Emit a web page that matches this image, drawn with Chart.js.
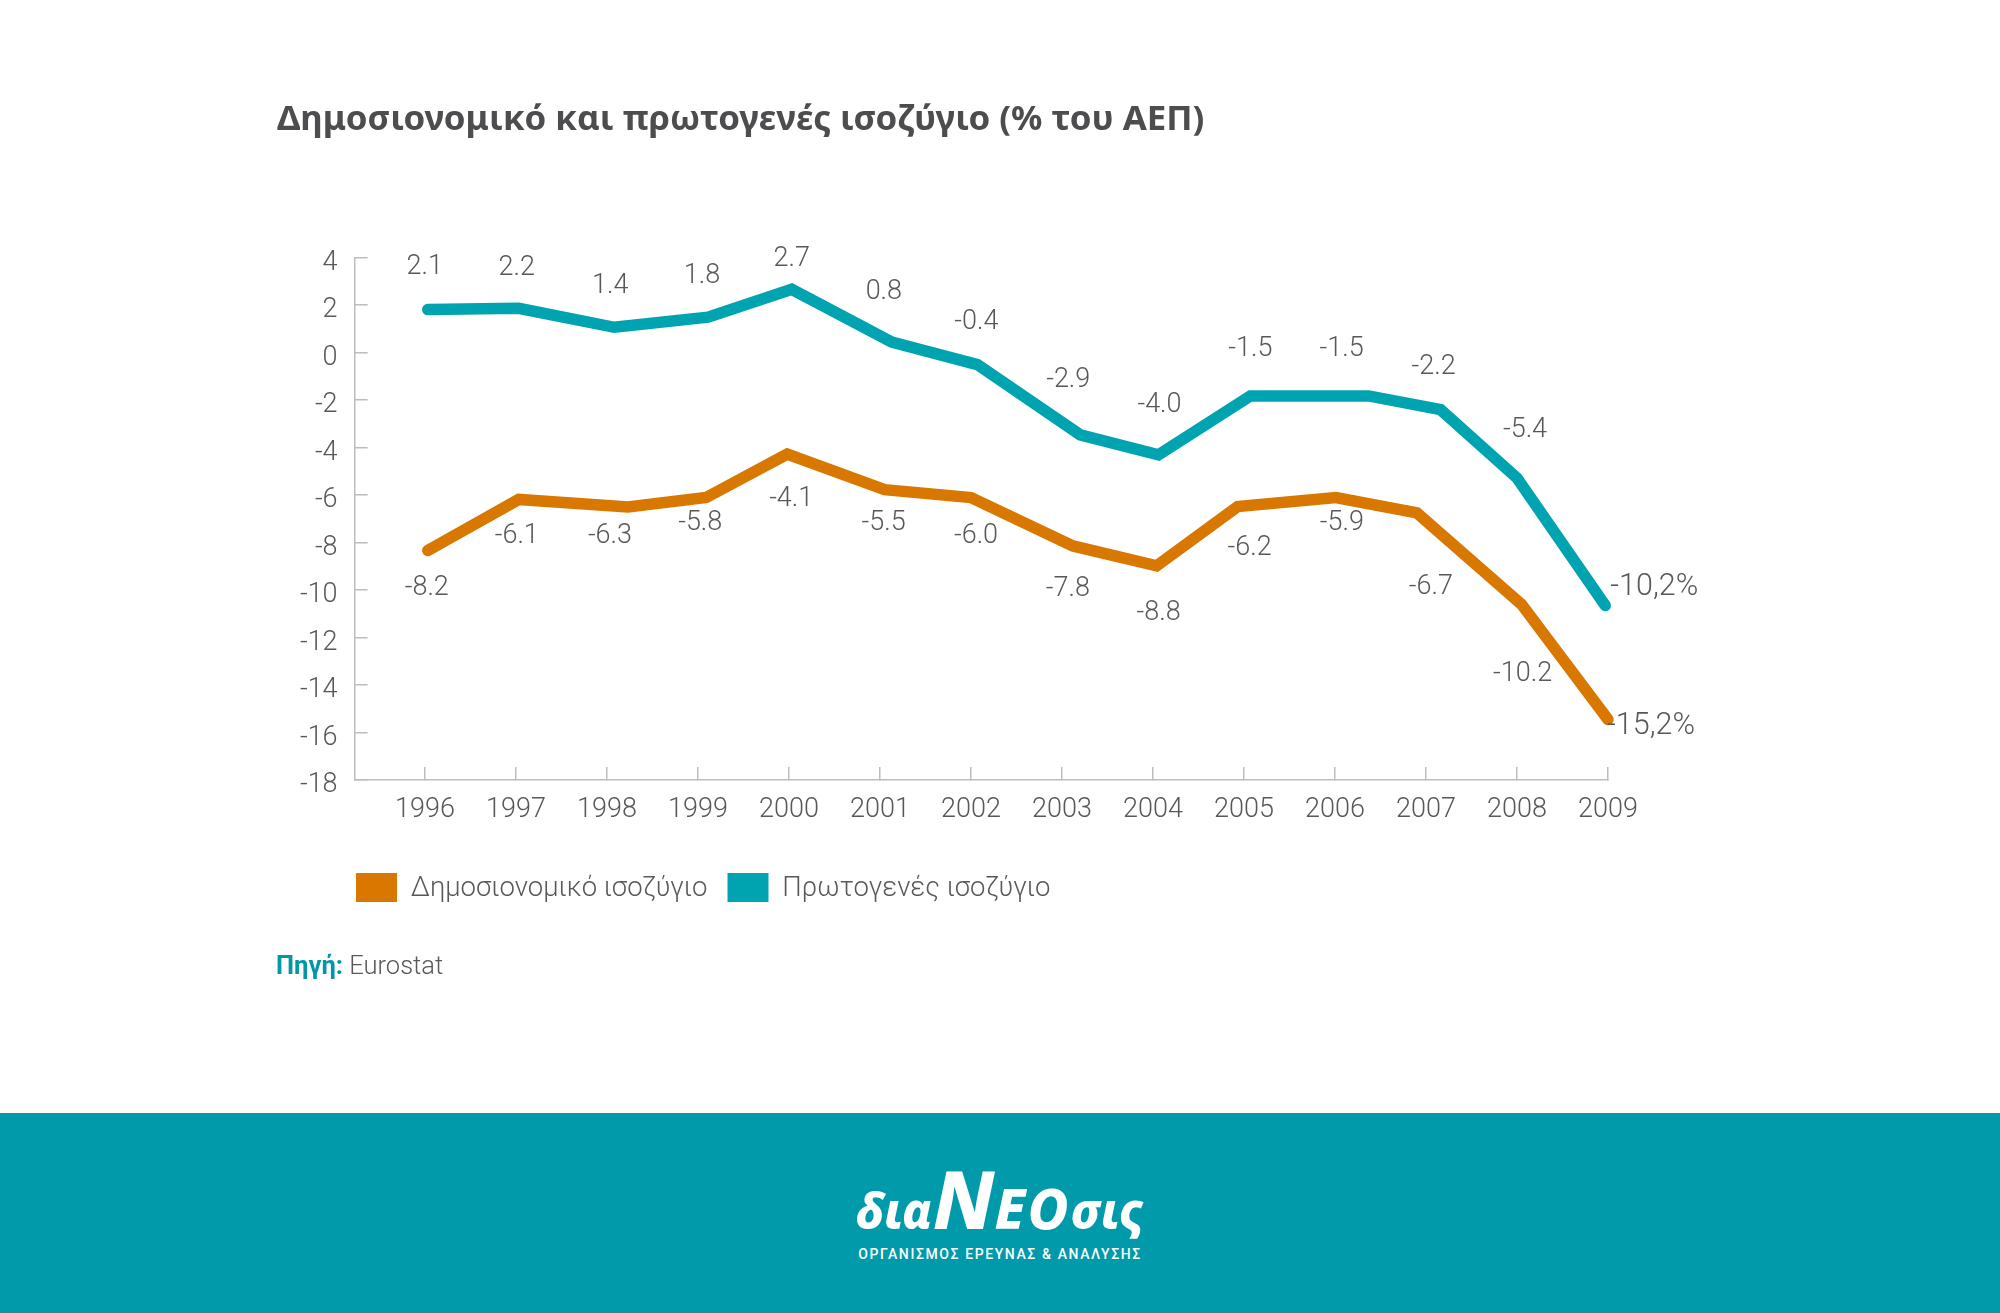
<!DOCTYPE html>
<html lang="el">
<head>
<meta charset="utf-8">
<title>Δημοσιονομικό και πρωτογενές ισοζύγιο</title>
<script src="https://cdn.jsdelivr.net/npm/chart.js@4"></script>
<style>
html, body { margin: 0; padding: 0; background: #fff; }
body { position: relative; width: 2000px; height: 1313px; overflow: hidden; font-family: Roboto, sans-serif; }
#chart { position: absolute; left: 0; top: 0; }
#source { position: absolute; left: 276px; top: 950px; font-size: 25.5px; font-weight: 300; color: #58585a; }
#source b { color: #0097a7; font-weight: 700; }
#footer { position: absolute; left: 0; top: 1113px; width: 2000px; height: 200px; background: #009aaa; color: #fff; text-align: center; }
#logo { position: absolute; left: 0; width: 2000px; top: 43px; font-family: "Noto Sans", sans-serif; font-weight: 800; font-style: italic; line-height: 84px; white-space: nowrap; }
#logo .low { font-size: 49px; }
#logo .cap { font-size: 56px; letter-spacing: 2px; }
#logo .n { font-size: 80px; }
#tagline { position: absolute; left: 0; width: 2000px; top: 133px; font-size: 14px; font-weight: 500; letter-spacing: 1.6px; }
</style>
</head>
<body>
<canvas id="chart" width="2000" height="1313"></canvas>
<div id="source"><b>Πηγή:</b> Eurostat</div>
<div id="footer">
  <div id="logo"><span class="low">δια</span><span class="n">Ν</span><span class="cap">ΕΟ</span><span class="low">σις</span></div>
  <div id="tagline">ΟΡΓΑΝΙΣΜΟΣ ΕΡΕΥΝΑΣ &amp; ΑΝΑΛΥΣΗΣ</div>
</div>
<script>
const TITULO = 'Δημοσιονομικό και πρωτογενές ισοζύγιο (% του ΑΕΠ)';
const ANIOS = [1996, 1997, 1998, 1999, 2000, 2001, 2002, 2003, 2004, 2005, 2006, 2007, 2008, 2009];

// the artwork's vertices don't sit exactly on the year ticks, so x is read off too
const DIMOSIO_X = [1996.03, 1997.03, 1998.23, 1999.09, 1999.98, 2001.05, 2002.0, 2003.12, 2004.04, 2004.93, 2006.01, 2006.9, 2008.05, 2009.0];
const DIMOSIO_Y = [-8.33, -6.18, -6.5, -6.1, -4.27, -5.77, -6.1, -8.14, -8.98, -6.48, -6.1, -6.75, -10.6, -15.45];
const DIMOSIO_ETIQ = ['-8.2', '-6.1', '-6.3', '-5.8', '-4.1', '-5.5', '-6.0', '-7.8', '-8.8', '-6.2', '-5.9', '-6.7', '-10.2', '-15,2%'];

const PROTO_X = [1996.03, 1997.03, 1998.08, 1999.11, 2000.03, 2001.13, 2002.07, 2003.2, 2004.06, 2005.07, 2006.37, 2007.16, 2008.0, 2008.97];
const PROTO_Y = [1.82, 1.87, 1.07, 1.5, 2.67, 0.45, -0.5, -3.46, -4.3, -1.82, -1.82, -2.4, -5.28, -10.65];
const PROTO_ETIQ = ['2.1', '2.2', '1.4', '1.8', '2.7', '0.8', '-0.4', '-2.9', '-4.0', '-1.5', '-1.5', '-2.2', '-5.4', '-10,2%'];

// label offsets from each vertex, in px
const DIMOSIO_DX = [-1, -2, -18, -6, 4, -1, 5, -5, 2, 12, 6, 14, 1, 43];
const DIMOSIO_DY = [38, 37, 29, 26, 45, 34, 39, 43, 47, 42, 26, 74, 70, 7];
const PROTO_DX = [-3, -2, -4, -6, 0, -8, -1, -12, 1, 0, -27, -7, 8, 49];
const PROTO_DY = [-42, -40, -41, -41, -30, -50, -42, -55, -50, -47, -47, -42, -48, -18];

const NARANJA = '#d97800';
const TURQUESA = '#00a3b0';
const GRIS = '#58585a';
const FUENTE = 'Roboto, sans-serif';

const etiquetas = {
    id: 'etiquetas',
    afterDatasetsDraw(chart) {
        const ctx = chart.ctx;
        const series = [[DIMOSIO_ETIQ, DIMOSIO_DX, DIMOSIO_DY], [PROTO_ETIQ, PROTO_DX, PROTO_DY]];
        ctx.save();
        ctx.textAlign = 'center';
        ctx.textBaseline = 'middle';
        ctx.fillStyle = GRIS;
        series.forEach(([txt, dx, dy], i) => {
            chart.getDatasetMeta(i).data.forEach((p, j) => {
                ctx.font = '300 ' + (j === txt.length - 1 ? 30.5 : 27) + 'px ' + FUENTE;
                ctx.fillText(txt[j], p.x + dx[j], p.y + dy[j]);
            });
        });
        ctx.restore();
    }
};

const leyendaFija = {
    id: 'leyendaFija',
    afterLayout(chart) {
        chart.legend.left = 356 - chart.options.plugins.legend.labels.padding;
        chart.legend.top = 873 - chart.options.plugins.legend.labels.padding;
    }
};

new Chart(document.getElementById('chart').getContext('2d'), {
    type: 'line',
    plugins: [etiquetas, leyendaFija],
    data: {
        datasets: [{
            label: 'Δημοσιονομικό ισοζύγιο',
            data: DIMOSIO_X.map((x, i) => ({ x, y: DIMOSIO_Y[i] })),
            borderColor: NARANJA,
            backgroundColor: NARANJA
        }, {
            label: 'Πρωτογενές ισοζύγιο',
            data: PROTO_X.map((x, i) => ({ x, y: PROTO_Y[i] })),
            borderColor: TURQUESA,
            backgroundColor: TURQUESA
        }]
    },
    options: {
        responsive: false,
        animation: false,
        layout: { padding: { left: 277, right: 392, top: 0, bottom: 411 } },
        elements: {
            line: { borderWidth: 11.5, tension: 0, borderCapStyle: 'round', borderJoinStyle: 'miter' },
            point: { radius: 0 }
        },
        datasets: { line: { clip: false } },
        plugins: {
            title: {
                display: true,
                text: TITULO,
                align: 'start',
                color: '#4d4d4f',
                font: { family: '"Noto Sans", sans-serif', size: 34.8, weight: '700' },
                padding: { top: 99, bottom: 117 }
            },
            legend: {
                position: 'bottom',
                align: 'start',
                labels: {
                    boxWidth: 41,
                    boxHeight: 32,
                    padding: 20,
                    color: GRIS,
                    font: { family: FUENTE, size: 27.5, weight: '300' },
                    generateLabels: chart => Chart.defaults.plugins.legend.labels.generateLabels(chart)
                        .map(item => ({ ...item, lineWidth: 0 }))
                }
            },
            tooltip: { enabled: false }
        },
        scales: {
            x: {
                type: 'linear',
                min: 1995.226,
                max: 2009,
                afterBuildTicks: axis => { axis.ticks = ANIOS.map(v => ({ value: v })); },
                afterFit: axis => { axis.height = 60; },
                border: { color: '#bdbdbd', width: 1.5 },
                grid: { drawOnChartArea: false, tickLength: -13, color: '#bdbdbd', lineWidth: 1.5 },
                ticks: {
                    autoSkip: false,
                    maxRotation: 0,
                    padding: 27,
                    color: GRIS,
                    font: { family: FUENTE, size: 27, weight: '300' },
                    callback: v => String(v)
                }
            },
            y: {
                min: -18,
                max: 4,
                afterFit: axis => { axis.width = 77.6; },
                border: { color: '#bdbdbd', width: 1.5 },
                grid: { drawOnChartArea: false, tickLength: -13, color: '#bdbdbd', lineWidth: 1.5 },
                ticks: {
                    stepSize: 2,
                    padding: 30,
                    labelOffset: 5.5,
                    color: GRIS,
                    font: { family: FUENTE, size: 27, weight: '300' }
                }
            }
        }
    }
});
</script>
</body>
</html>
